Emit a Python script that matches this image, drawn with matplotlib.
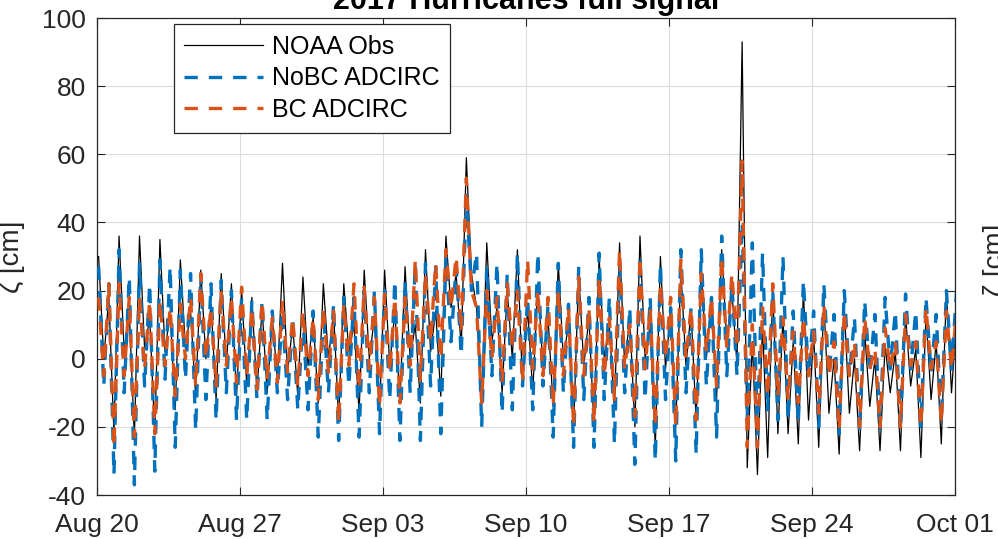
import numpy as np
import matplotlib
matplotlib.use("Agg")
import matplotlib.pyplot as plt
import matplotlib.dates as mdates
from datetime import datetime, timedelta

plt.rcParams['font.family'] = ['Liberation Sans', 'DejaVu Sans']
plt.rcParams['axes.unicode_minus'] = False

# Water level turning points, four per day (high, low, high, low), cm
obs_h1 = [30, 36, 36, 35, 29, 26, 25, 20, 15, 28, 24, 22, 22, 26, 26, 27, 32, 36, 59, 34,
          20, 15, 12, 10, 12, 10, 12, 10, 14, 14, 18, 20, 5, 20, 5, 7, 0, 0, 0, 2, 3, 5, 12]
obs_l1 = [0, 2, 3, 2, 3, 0, -2, -8, -10, -4, -2, 0, 2, 0, -2, 0, 2, 15, 25, 5,
          0, -10, -14, -20, -20, -15, -20, -26, -20, -18, -12, -2, -34, -22, -25, -26, -28, -27, -27, -27, -29, -25]
obs_h2 = [18, 14, 12, 14, 14, 16, 22, 18, 12, 10, 12, 14, 10, 12, 14, 10, 14, 25, 15, 15,
          32, 22, 28, 25, 30, 34, 36, 30, 26, 26, 32, 93, 10, 12, 20, 17, 15, 8, 4, 13, 13, 20]
obs_l2 = [-22, -23, -22, -15, -11, -12, -11, -10, -6, -11, -13, -18, -16, -16, -13, -13, -11, 3, -13, -10,
          -8, -2, 0, -2, 0, -2, 0, -3, -2, 0, 5, -32, -29, -22, -18, -16, -16, -14, -10, -8, -12, -10]

nobc_h1 = [27, 32, 28, 29, 26, 25, 23, 18, 17, 14, 12, 14, 18, 20, 20, 23, 28, 30, 48, 27,
           25, 18, 16, 16, 18, 18, 15, 18, 15, 15, 18, 22, 34, 20, 14, 14, 13, 12, 13, 14, 14, 13, 20]
nobc_l1 = [-8, -10, -8, -6, -6, -12, -10, -18, -18, -12, -15, -10, -8, -10, -12, -10, -8, 5, 20, -5,
           -15, -15, -23, -26, -26, -25, -31, -30, -30, -28, -23, -5, -22, -18, -19, -20, -22, -21, -21, -21, -20, -18]
nobc_h2 = [22, 24, 22, 27, 25, 22, 20, 17, 14, 12, 14, 16, 18, 20, 23, 28, 27, 27, 31, 28,
           31, 31, 28, 27, 31, 28, 30, 28, 32, 32, 36, 40, 31, 30, 23, 22, 20, 17, 18, 19, 18, 20]
nobc_l2 = [-34, -37, -33, -26, -21, -18, -18, -12, -10, -15, -23, -24, -23, -22, -24, -24, -22, 1, -20, -16,
           -8, -8, -10, -12, -12, -10, -12, -12, -10, -8, -5, -18, -15, -18, -5, -5, -5, -4, -3, -3, -4, -3]

bc_h1 = [18, 22, 18, 17, 16, 25, 20, 21, 17, 17, 14, 15, 16, 21, 19, 18, 25, 32, 53, 20,
         22, 29, 18, 15, 15, 12, 10, 15, 18, 15, 18, 25, 10, 22, 8, 8, 5, 5, 3, 5, 5, 5, 14]
bc_l1 = [-5, -5, -3, -2, 0, 0, -2, -5, -6, -4, -5, -4, -2, -3, -4, -2, 5, 15, 20, 0,
         3, -3, -14, -20, -19, -12, -17, -20, -20, -18, -8, 3, -26, -11, -13, -16, -21, -20, -20, -20, -20, -19]
bc_h2 = [22, 18, 17, 15, 18, 15, 18, 15, 12, 12, 12, 14, 22, 18, 18, 29, 28, 30, 15, 18,
         20, 20, 20, 24, 24, 32, 30, 22, 29, 25, 30, 58, 15, 12, 12, 16, 14, 12, 9, 13, 15, 14]
bc_l2 = [-26, -23, -22, -11, -8, -8, -7, -9, -7, -8, -12, -19, -9, -14, -13, -6, 0, 8, -13, -7,
         -7, -5, -5, -5, -5, -3, -3, 0, 0, 2, 3, -26, -11, -12, -5, -5, -5, -3, -3, -2, -3, -3]

start = datetime(2017, 8, 20)
tick_labels = ['Aug 20', 'Aug 27', 'Sep 03', 'Sep 10', 'Sep 17', 'Sep 24', 'Oct 01']
slot_offsets = [0.08, 0.33, 0.58, 0.83]


def series(h1, l1, h2, l2):
    n = len(l1)
    vals = np.column_stack([h1[:n], l1, h2, l2]).ravel()
    days = (np.arange(n)[:, None] + np.array(slot_offsets)[None, :]).ravel()
    vals = np.append(vals, h1[n])
    days = np.append(days, n + slot_offsets[0])
    times = [start + timedelta(days=float(d)) for d in days]
    return mdates.date2num(times), vals


fig = plt.figure(figsize=(9.98, 5.39), dpi=100)
ax = fig.add_axes([0.0972, 0.0816, 0.8597, 0.885])

t, v = series(obs_h1, obs_l1, obs_h2, obs_l2)
ax.plot(t, v, color='black', lw=0.9, label='NOAA Obs', zorder=3)
t, v = series(nobc_h1, nobc_l1, nobc_h2, nobc_l2)
ax.plot(t, v, color='#0072BD', lw=2.4, dashes=(4, 3.3), label='NoBC ADCIRC', zorder=4)
t, v = series(bc_h1, bc_l1, bc_h2, bc_l2)
ax.plot(t, v, color='#D95319', lw=2.4, dashes=(4, 3.3), label='BC ADCIRC', zorder=5)

ticks = [mdates.date2num(start + timedelta(days=7 * i)) for i in range(7)]
ax.set_xlim(ticks[0], ticks[-1])
ax.set_xticks(ticks)
ax.set_xticklabels(tick_labels)
ax.set_ylim(-40, 100)
ax.set_yticks(np.arange(-40, 101, 20))

ax.grid(True, color='#dcdcdc', lw=0.8)
ax.set_axisbelow(True)
ax.tick_params(direction='in', length=6, width=0.8, top=True, right=True,
               labelsize=19, colors='#262626')
ax.tick_params(axis='y', pad=8)
ax.tick_params(axis='x', pad=13)
for s in ax.spines.values():
    s.set_color('#262626')
    s.set_linewidth(0.9)

ax.set_ylabel('ζ [cm]', fontsize=20, color='#262626', labelpad=12)

fig.text(0.527, 1 - 8.5 / 539, '2017 Hurricanes full signal', ha='center', va='baseline',
         fontsize=22, fontweight='bold', color='black')
fig.text(983 / 998, 1 - 260 / 539, 'ζ [cm]', rotation=90, ha='left', va='center',
         fontsize=20, color='#262626')

leg = ax.legend(loc='upper left', bbox_to_anchor=(0.0897, 0.987), borderaxespad=0,
                fontsize=18, handlelength=3.15, handletextpad=0.36, labelspacing=0.31,
                borderpad=0.42, fancybox=False, framealpha=1, edgecolor='#262626')
leg.get_frame().set_linewidth(0.9)

fig.savefig('out.png', dpi=100)
